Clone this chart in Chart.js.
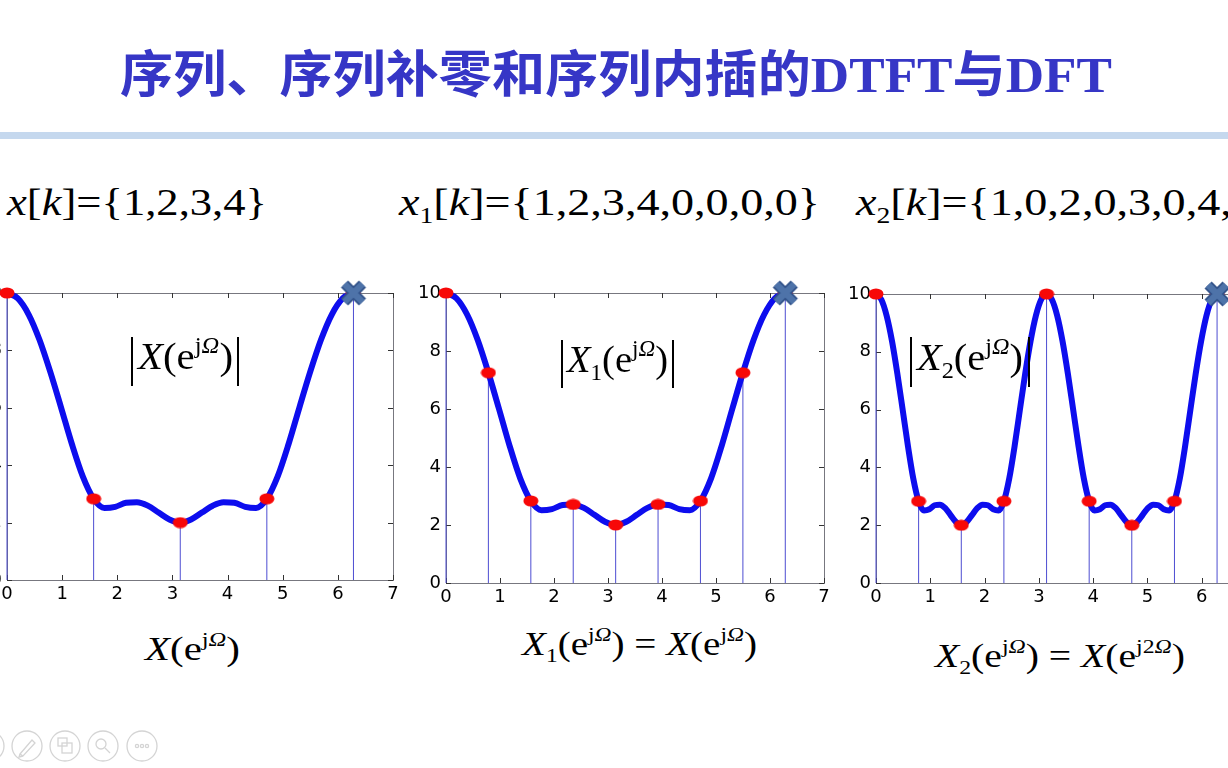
<!DOCTYPE html>
<html>
<head>
<meta charset="utf-8">
<script src="https://cdn.jsdelivr.net/npm/chart.js@4.4.1/dist/chart.umd.min.js"></script>
<style>
  html, body { margin: 0; padding: 0; }
  body { width: 1228px; height: 768px; overflow: hidden; position: relative; background: #fff;
         font-family: 'Liberation Serif', 'Times New Roman', serif; color: #000; }
  .abs { position: absolute; white-space: nowrap; line-height: 1; transform-origin: 0 0; }
  .title { font-family: 'Noto Sans CJK SC', sans-serif; font-weight: 700; font-size: 50px; color: #3636c6; }
  .title .lat { font-family: 'Liberation Serif', serif; font-weight: 700; }
  .rule { position: absolute; left: 0; top: 132px; width: 1228px; height: 7px; background: #c5d8ee; }
  canvas { position: absolute; }
  sup { font-size: 0.6em; vertical-align: 0.7em; line-height: 0; }
  sub { font-size: 0.6em; vertical-align: -0.35em; line-height: 0; }
  .bar { position: absolute; width: 2px; background: #000; }
</style>
</head>
<body>

<div class="abs title" id="title" data-w="992" style="left:120px; top:45px;">序列、序列补零和序列内插的<span class="lat">DTFT</span>与<span class="lat">DFT</span></div>
<div class="rule"></div>

<div class="abs" id="f1" data-w="260" style="left:7px; top:183px; font-size:38px;"><i>x</i>[<i>k</i>]={1,2,3,4}</div>
<div class="abs" id="f2" data-w="421" style="left:399px; top:183px; font-size:38px;"><i>x</i><sub>1</sub>[<i>k</i>]={1,2,3,4,0,0,0,0}</div>
<div class="abs" id="f3" data-like="f2" style="left:856px; top:183px; font-size:38px;"><i>x</i><sub>2</sub>[<i>k</i>]={1,0,2,0,3,0,4,0}</div>

<canvas id="c1"></canvas>
<canvas id="c2"></canvas>
<canvas id="c3"></canvas>

<div class="bar" style="left:131px; top:337px; height:49px;"></div>
<div class="abs" data-w="95" style="left:138px; top:337px; font-size:38px;"><i>X</i>(e<sup>j<i>Ω</i></sup>)</div>
<div class="bar" style="left:237px; top:337px; height:49px;"></div>

<div class="bar" style="left:561px; top:340px; height:48px;"></div>
<div class="abs" data-w="101" style="left:567px; top:340px; font-size:38px;"><i>X</i><sub>1</sub>(e<sup>j<i>Ω</i></sup>)</div>
<div class="bar" style="left:672px; top:340px; height:48px;"></div>

<div class="bar" style="left:910px; top:337px; height:50px;"></div>
<div class="abs" data-w="106" style="left:917px; top:338px; font-size:38px;"><i>X</i><sub>2</sub>(e<sup>j<i>Ω</i></sup>)</div>
<div class="bar" style="left:1028px; top:337px; height:50px;"></div>

<div class="abs" data-w="95" style="left:145px; top:633px; font-size:33px;"><i>X</i>(e<sup>j<i>Ω</i></sup>)</div>
<div class="abs" data-w="235" style="left:522px; top:628px; font-size:33px;"><i>X</i><sub>1</sub>(e<sup>j<i>Ω</i></sup>) = <i>X</i>(e<sup>j<i>Ω</i></sup>)</div>
<div class="abs" data-w="250" style="left:935px; top:640px; font-size:33px;"><i>X</i><sub>2</sub>(e<sup>j<i>Ω</i></sup>) = <i>X</i>(e<sup>j2<i>Ω</i></sup>)</div>

<svg class="abs" style="left:0; top:728px;" width="170" height="40">
  <g fill="none" stroke="#d4d4d4" stroke-width="1.3">
    <circle cx="-11" cy="18" r="15"/>
    <circle cx="27" cy="18" r="15"/>
    <path d="M20 26 L32 12 L35 15 L23 28 Z M20 26 L19 29 L23 28"/>
    <circle cx="65" cy="18" r="15"/>
    <rect x="58" y="10" width="9" height="8"/><rect x="62" y="15" width="10" height="10"/>
    <circle cx="103" cy="18" r="15"/>
    <circle cx="101" cy="16" r="5"/><path d="M105 20 L110 25"/>
    <circle cx="142" cy="18" r="15"/>
    <circle cx="137" cy="18" r="1.6"/><circle cx="142" cy="18" r="1.6"/><circle cx="147" cy="18" r="1.6"/>
  </g>
</svg>

<script>
const omega1 = [0, 0.196, 0.393, 0.589, 0.785, 0.982, 1.178, 1.374, 1.571, 1.767, 1.963,
  2.160, 2.356, 2.553, 2.749, 2.945, 3.142, 3.338, 3.534, 3.731, 3.927, 4.123, 4.320,
  4.516, 4.712, 4.909, 5.105, 5.301, 5.498, 5.694, 5.890, 6.087, 6.283];
const mag1 = [10, 9.81, 9.25, 8.37, 7.25, 6.00, 4.73, 3.61, 2.83, 2.51, 2.55,
  2.69, 2.71, 2.59, 2.35, 2.11, 2.00, 2.11, 2.35, 2.59, 2.71, 2.69, 2.55,
  2.51, 2.83, 3.61, 4.73, 6.00, 7.25, 8.37, 9.25, 9.81, 10];

// |X2(e^jΩ)|, third plot, sampled every π/32
const omega3 = [0, 0.098, 0.196, 0.295, 0.393, 0.491, 0.589, 0.687, 0.785, 0.884, 0.982,
  1.080, 1.178, 1.276, 1.374, 1.473, 1.571, 1.669, 1.767, 1.865, 1.963, 2.062, 2.160,
  2.258, 2.356, 2.454, 2.553, 2.651, 2.749, 2.847, 2.945, 3.043, 3.142, 3.240, 3.338,
  3.436, 3.534, 3.632, 3.731, 3.829, 3.927, 4.025, 4.123, 4.221, 4.320, 4.418, 4.516,
  4.614, 4.712, 4.810, 4.909, 5.007, 5.105, 5.203, 5.301, 5.400, 5.498, 5.596, 5.694,
  5.792, 5.890, 5.989, 6.087, 6.185, 6.283];
const mag3 = [10, 9.81, 9.25, 8.37, 7.25, 6.00, 4.73, 3.61, 2.83, 2.51, 2.55,
  2.69, 2.71, 2.59, 2.35, 2.11, 2.00, 2.11, 2.35, 2.59, 2.71, 2.69, 2.55,
  2.51, 2.83, 3.61, 4.73, 6.00, 7.25, 8.37, 9.25, 9.81, 10, 9.81, 9.25,
  8.37, 7.25, 6.00, 4.73, 3.61, 2.83, 2.51, 2.55, 2.69, 2.71, 2.59, 2.35,
  2.11, 2.00, 2.11, 2.35, 2.59, 2.71, 2.69, 2.55, 2.51, 2.83, 3.61, 4.73,
  6.00, 7.25, 8.37, 9.25, 9.81, 10];

// DFT samples (red dots + stems)
const dftW1 = [0, 1.571, 3.142, 4.712];
const dftMag1 = [10, 2.83, 2, 2.83];
const dftW2 = [0, 0.785, 1.571, 2.356, 3.142, 3.927, 4.712, 5.498];
const dftMag2 = [10, 7.25, 2.83, 2.71, 2, 2.71, 2.83, 7.25];
const dftW3 = [0, 0.785, 1.571, 2.356, 3.142, 3.927, 4.712, 5.498];
const dftMag3 = [10, 2.83, 2, 2.83, 10, 2.83, 2, 2.83];

// the repeated sample at 2π, marked with a cross
const periodW = 6.283;
const periodMag = 10;

function dotImg() {
  const c = document.createElement('canvas');
  c.width = 16; c.height = 12;
  const g = c.getContext('2d');
  g.fillStyle = '#f70808';
  g.beginPath();
  g.ellipse(8, 6, 7.5, 5.5, 0, 0, Math.PI * 2);
  g.fill();
  return c;
}

function crossImg() {
  const c = document.createElement('canvas');
  c.width = 28; c.height = 28;
  const g = c.getContext('2d');
  [[10, '#33538a'], [6.5, '#4e73a9']].forEach(([w, col]) => {
    g.strokeStyle = col;
    g.lineWidth = w;
    g.beginPath();
    g.moveTo(5, 5); g.lineTo(23, 23);
    g.moveTo(23, 5); g.lineTo(5, 23);
    g.stroke();
  });
  return c;
}

const DOT = dotImg();
const CROSS = crossImg();

// matlab style box with inward ticks
const boxPlugin = {
  id: 'box',
  beforeDatasetsDraw(chart) {
    const { ctx, chartArea: a, scales: { x, y } } = chart;
    ctx.save();
    ctx.strokeStyle = '#77777f';
    ctx.lineWidth = 1;
    ctx.strokeRect(a.left + 0.5, a.top + 0.5, a.right - a.left, a.bottom - a.top);
    ctx.strokeStyle = '#333';
    ctx.beginPath();
    x.ticks.forEach(t => {
      const px = Math.round(x.getPixelForValue(t.value)) + 0.5;
      ctx.moveTo(px, a.bottom); ctx.lineTo(px, a.bottom - 5);
      ctx.moveTo(px, a.top); ctx.lineTo(px, a.top + 5);
    });
    y.ticks.forEach(t => {
      const py = Math.round(y.getPixelForValue(t.value)) + 0.5;
      ctx.moveTo(a.left, py); ctx.lineTo(a.left + 5, py);
      ctx.moveTo(a.right, py); ctx.lineTo(a.right - 5, py);
    });
    ctx.stroke();
    ctx.restore();
  }
};

const PAD_TOP = 20;

function makeChart(id, area, curveW, curveM, dftW, dftM) {
  const canvas = document.getElementById(id);
  canvas.width = area.right - area.left + 55;
  canvas.height = area.bottom - area.top + PAD_TOP + 30;
  canvas.style.left = (area.left - 40) + 'px';
  canvas.style.top = (area.top - PAD_TOP) + 'px';

  const curve = curveW.map((w, i) => ({ x: w, y: curveM[i] }));
  const dots = dftW.map((w, i) => ({ x: w, y: dftM[i] }));
  dots.push({ x: periodW, y: periodMag });
  const stems = [];
  dots.forEach(p => {
    stems.push({ x: p.x, y: 0 }, { x: p.x, y: p.y }, { x: p.x, y: null });
  });

  const tickFont = { family: 'DejaVu Sans', size: 18 };

  return new Chart(canvas.getContext('2d'), {
    type: 'line',
    data: {
      datasets: [
        { data: [{ x: periodW, y: periodMag }], showLine: false, pointStyle: CROSS, pointRadius: 10, clip: false },
        { data: dots, showLine: false, pointStyle: DOT, pointRadius: 7, clip: false },
        { data: curve, borderColor: '#0d0dee', borderWidth: 6, pointRadius: 0,
          cubicInterpolationMode: 'monotone', clip: false, borderCapStyle: 'round', borderJoinStyle: 'round' },
        { data: stems, borderColor: '#4d4dd2', borderWidth: 1, pointRadius: 0, spanGaps: false, clip: false }
      ]
    },
    options: {
      responsive: false,
      animation: false,
      events: [],
      layout: { padding: { top: PAD_TOP, right: 15, left: 0, bottom: 0 } },
      plugins: { legend: { display: false }, tooltip: { enabled: false } },
      scales: {
        x: {
          type: 'linear', min: 0, max: 7,
          afterFit: s => { s.height = 30; },
          grid: { display: false, drawTicks: false },
          border: { display: false },
          ticks: { stepSize: 1, padding: 4, color: '#000', font: tickFont, maxRotation: 0 }
        },
        y: {
          type: 'linear', min: 0, max: 10,
          afterFit: s => { s.width = 40; },
          grid: { display: false, drawTicks: false },
          border: { display: false },
          ticks: { stepSize: 2, padding: 5, color: '#000', font: tickFont }
        }
      }
    },
    plugins: [boxPlugin]
  });
}

makeChart('c1', { left: 7, top: 293, right: 393, bottom: 580 }, omega1, mag1, dftW1, dftMag1);
makeChart('c2', { left: 446, top: 293, right: 824, bottom: 583 }, omega1, mag1, dftW2, dftMag2);
makeChart('c3', { left: 876, top: 294, right: 1256, bottom: 583 }, omega3, mag3, dftW3, dftMag3);

// stretch text horizontally to the slide's widths
const scales = {};
document.querySelectorAll('[data-w]').forEach(el => {
  const w = el.getBoundingClientRect().width;
  const s = +el.dataset.w / w;
  scales[el.id] = s;
  el.style.transform = 'scaleX(' + s + ')';
});
document.querySelectorAll('[data-like]').forEach(el => {
  el.style.transform = 'scaleX(' + scales[el.dataset.like] + ')';
});
</script>
</body>
</html>
